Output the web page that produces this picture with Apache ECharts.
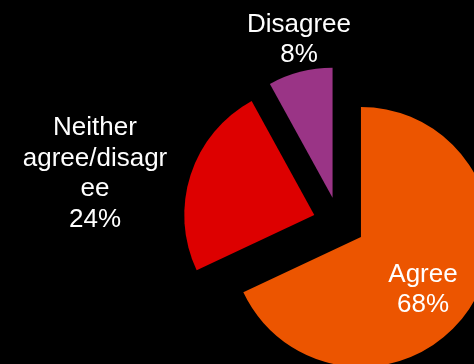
<!DOCTYPE html>
<html>
<head>
<meta charset="utf-8">
<style>
  html, body { margin: 0; padding: 0; background: #000; }
  #chart { width: 474px; height: 364px; }
</style>
<script src="https://cdn.jsdelivr.net/npm/echarts@6/dist/echarts.min.js"></script>
</head>
<body>
<div id="chart"></div>
<script>
// Response categories (as printed, including the wrap of the long label)
const categories = ['Agree', 'Neither\nagree/disagr\nee', 'Disagree'];
// Share of responses, in percent
const shares = [68, 24, 8];
const colors = ['#EC5500', '#DD0000', '#9A3486'];

// Label anchor points (block centres) for each slice
const labelAnchors = [[423, 290], [95, 174], [299, 40]];

const chart = echarts.init(document.getElementById('chart'), null, { renderer: 'canvas' });

const labelFont = {
  fill: '#ffffff',
  fontFamily: 'Liberation Sans, Arial, sans-serif',
  fontSize: 26,
  lineHeight: 30.5,
  align: 'center',
  verticalAlign: 'middle'
};

chart.setOption({
  backgroundColor: '#000000',
  animation: false,
  graphic: categories.map(function (name, i) {
    return {
      type: 'text',
      x: labelAnchors[i][0],
      y: labelAnchors[i][1],
      z: 10,
      style: Object.assign({ text: name + '\n' + shares[i] + '%' }, labelFont)
    };
  }),
  series: [{
    type: 'pie',
    center: [339, 223],
    radius: 130,
    startAngle: 90,
    clockwise: true,
    selectedMode: 'multiple',
    selectedOffset: 26,
    emphasis: { disabled: true },
    label: { show: false },
    labelLine: { show: false },
    data: categories.map(function (name, i) {
      return {
        name: name,
        value: shares[i],
        selected: true,
        itemStyle: { color: colors[i] },
        select: { itemStyle: { color: colors[i] } }
      };
    })
  }]
});
</script>
</body>
</html>
